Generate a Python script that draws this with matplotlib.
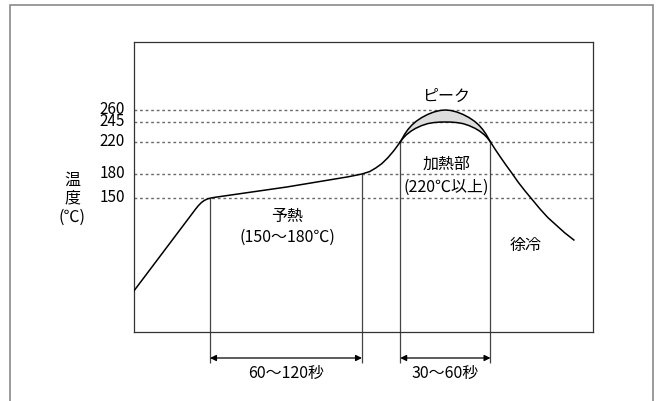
import matplotlib
matplotlib.use('Agg')
import matplotlib.pyplot as plt
import matplotlib as mpl

mpl.rcParams['font.family'] = ['Noto Sans CJK JP', 'DejaVu Sans']
mpl.rcParams['font.size'] = 11.5

# リフロー温度プロファイル (時間:秒, 温度:℃)
time_rise = [0, 40, 42, 44, 46, 48, 50, 53, 100, 140, 149, 154, 158, 162, 166, 170, 174]
temp_rise = [34, 135.5, 140.3, 144.2, 147, 148.8, 149.9, 150.9, 163.8, 176.5, 180, 183, 187.5, 193, 200.5, 209.5, 220]

time_low = [174, 176, 178, 181, 184, 188, 192, 196, 200, 203.5, 207, 211, 215, 219, 223, 226, 229, 231, 233]
temp_low = [220, 225, 229, 233.5, 237, 240.5, 243, 244.3, 244.9, 245, 244.9, 244.3, 243, 240.5, 237, 233.5, 229, 225, 220]

time_up = [174, 175.5, 177, 179, 181.5, 184.5, 188, 192, 196, 200, 203.5,
           207, 211, 215, 219, 222.5, 225.5, 228, 230, 231.5, 233]
temp_up = [220, 225, 230, 235.5, 241, 246, 250.5, 254.5, 257.5, 259.4, 260,
           259.4, 257.5, 254.5, 250.5, 246, 241, 235.5, 230, 225, 220]

time_fall = [233, 236, 239, 243, 247, 251, 255.5, 260.5, 265.5, 270.5, 276, 281.5, 287.5]
temp_fall = [220, 211, 202.5, 191.5, 181, 170, 159, 147.5, 136, 125.5, 116, 106.5, 97.5]

ref_temps = [150, 180, 220, 245, 260]
ref_labels = ['150', '180', '220', '245', '260']

guide_times = [49.7, 149, 174, 233]
guide_temps = [150, 180, 220, 220]

spans = [(49.7, 149, '60〜120秒'), (174, 233, '30〜60秒')]

fig = plt.figure(figsize=(6.58, 4.01), dpi=100)
ax = fig.add_axes([134 / 658, 1 - 332 / 401, 459 / 658, 290 / 401])
ax.set_xlim(0, 300)
ax.set_ylim(-17.5, 345)
ax.set_xticks([])
ax.set_yticks([])
for s in ax.spines.values():
    s.set_color('#333333')
    s.set_linewidth(0.9)

# 外枠
fig.add_artist(plt.Rectangle((10 / 658, -0.05), 643 / 658, 1 - 5 / 401 + 0.05,
                             transform=fig.transFigure, fill=False,
                             ec='#8a8a8a', lw=1.2))

# 点線 (温度の目安)
for t, lab in zip(ref_temps, ref_labels):
    ax.axhline(t, color='#6a6a6a', lw=1.0, linestyle=(0, (2, 2)), zorder=1)
    ax.text(-5.9, t, lab, ha='right', va='center', fontsize=11, clip_on=False)

# ピーク部分の塗りつぶし
ax.fill(time_up + time_low[::-1], temp_up + temp_low[::-1], color='#dedede', zorder=2, lw=0)

# 曲線
for tx, ty in [(time_rise, temp_rise), (time_low, temp_low),
               (time_up, temp_up), (time_fall, temp_fall)]:
    ax.plot(tx, ty, color='black', lw=1.1, zorder=3, solid_joinstyle='round')

# 縦の補助線
ax.vlines(guide_times, -56, guide_temps, color='#444444', lw=0.9, clip_on=False, zorder=2)

# 時間の矢印
for t0, t1, lab in spans:
    ax.annotate('', xy=(t1, -50), xytext=(t0, -50), annotation_clip=False,
                arrowprops=dict(arrowstyle='<|-|>', color='black', lw=0.9,
                                mutation_scale=9, shrinkA=0, shrinkB=0))
    ax.text((t0 + t1) / 2, -69, lab, ha='center', va='center', fontsize=11.5, clip_on=False)

# 文字
ax.text(204, 277.5, 'ピーク', ha='center', va='center')
ax.text(204, 192.5, '加熱部', ha='center', va='center')
ax.text(204, 163.7, '(220℃以上)', ha='center', va='center')
ax.text(100, 127.5, '予熱', ha='center', va='center')
ax.text(100, 101.3, '(150〜180℃)', ha='center', va='center')
ax.text(256, 91.3, '徐冷', ha='center', va='center')

ax.text(-40.5, 171.9, '温', ha='center', va='center', clip_on=False)
ax.text(-40.5, 150.6, '度', ha='center', va='center', clip_on=False)
ax.text(-40.5, 125.6, '(℃)', ha='center', va='center', clip_on=False)

plt.savefig('out.png', dpi=100)
